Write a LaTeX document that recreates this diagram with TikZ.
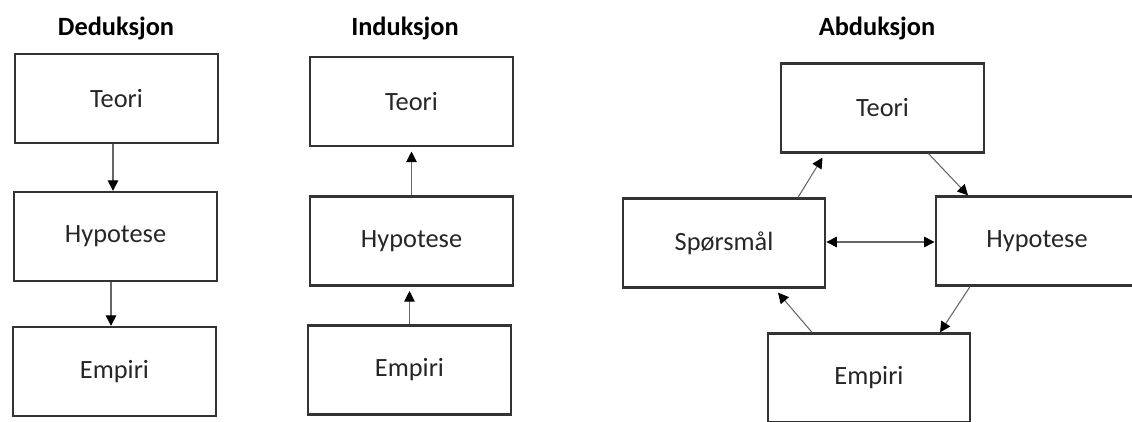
\documentclass[tikz,border=0pt]{standalone}
\usepackage{fontspec}
\setmainfont{Carlito}
\usetikzlibrary{arrows.meta,positioning,calc}

\begin{document}
\begin{tikzpicture}[
      x=1cm,y=1cm,
      boks/.style={rectangle,draw=black!80,line width=1.3pt,fill=white,text=black!85,
                   minimum width=40.5mm,minimum height=17.8mm,align=center,
                   font=\fontsize{15}{18}\selectfont},
      tittel/.style={font=\bfseries\fontsize{15}{18}\selectfont},
      pil/.style={-{Triangle[length=6pt,width=6pt,color=black]},line width=0.6pt,draw=black!60},
      dobbelpil/.style={{Triangle[length=6pt,width=6pt,color=black]}-{Triangle[length=6pt,width=6pt,color=black]},
                        line width=0.6pt,draw=black!60}
    ]
    \clip (0,0) rectangle (22.64,-8.44);

    % Titles
    \node[tittel] (tD) at (2.32,-0.56) {Deduksjon};
    \node[tittel] (tI) at (8.10,-0.56) {Induksjon};
    \node[tittel] (tA) at (17.54,-0.56) {Abduksjon};

    % Deduksjon
    \node[boks] (DT) at (2.33,-1.97) {Teori};
    \node[boks] (DH) at (2.31,-4.73) {Hypotese};
    \node[boks] (DE) at (2.29,-7.43) {Empiri};

    \draw[pil] ([xshift=-0.07cm]DT.south) -- ([xshift=-0.07cm]DT.south |- DH.north);
    \draw[pil] ([xshift=-0.09cm]DH.south) -- ([xshift=-0.09cm]DH.south |- DE.north);

    % Induksjon
    \node[boks] (IT) at (8.23,-2.03) {Teori};
    \node[boks] (IH) at (8.23,-4.82) {Hypotese};
    \node[boks] (IE) at (8.19,-7.40) {Empiri};

    \draw[pil,shorten >=2.5pt] (IH.north) -- (IH.north |- IT.south);
    \draw[pil,shorten >=2.5pt] (IE.north) -- (IE.north |- IH.south);

    % Abduksjon
    \node[boks] (AT) at (17.65,-2.16) {Teori};
    \node[boks] (AS) at (14.48,-4.86) {Spørsmål};
    \node[boks] (AH) at (20.74,-4.82) {Hypotese};
    \node[boks] (AE) at (17.38,-7.56) {Empiri};

    \draw[pil] ([xshift=1.48cm]AS.north) -- ([xshift=-1.20cm,yshift=-0.08cm]AT.south);
    \draw[pil] ([xshift=0.92cm]AT.south) -- ([xshift=-1.38cm]AH.north);
    \draw[pil] ([xshift=-1.34cm]AH.south) -- ([xshift=1.42cm]AE.north);
    \draw[pil] ([xshift=-1.14cm]AE.north) -- ([xshift=1.08cm,yshift=-0.08cm]AS.south);
    \draw[dobbelpil] ([yshift=0.02cm]AS.east) -- ([yshift=0.02cm]AS.east -| AH.west);

  \end{tikzpicture}
\end{document}
